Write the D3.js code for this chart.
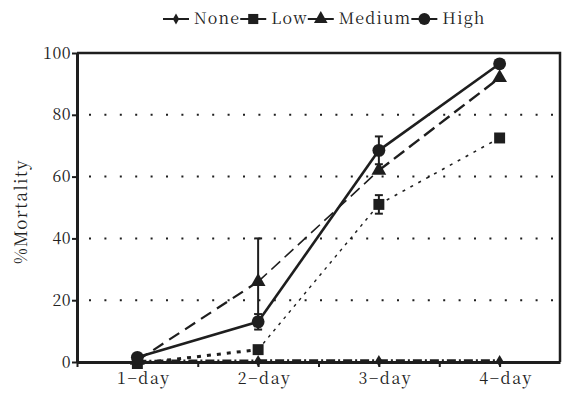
<!DOCTYPE html>
<html>
<head>
<meta charset="utf-8">
<script src="https://cdn.jsdelivr.net/npm/d3@7"></script>
</head>
<body style="margin:0;background:#fff">
<svg id="chart" width="565" height="397"></svg>
<script>
// Days of exposure and mortality (%) per treatment level
const days = ["1-day", "2-day", "3-day", "4-day"];
const seriesNames = ["None", "Low", "Medium", "High"];
const noneValues = [0.3, 0.4, 0.4, 0.4];
const lowValues = [-0.5, 4, 51, 72.5];
const mediumValues = [0.5, 26, 62, 92];
const highValues = [1.5, 13, 68.5, 96.5];
const noneErrors = [0, 0, 0, 0];
const lowErrors = [0, 0, 3, 0];
const mediumErrors = [0, 14, 0, 0];
const highErrors = [0.5, 2.5, 4.5, 0];
const yTicks = [0, 20, 40, 60, 80, 100];

const svg = d3.select("#chart");
const W = 565, H = 397;
const m = { left: 77, right: 5, top: 53, bottom: 35 };
const ink = "#1e1e1e";
const serif = '"Noto Serif CJK SC", "Liberation Serif", serif';

// every label goes through this helper so the typeface is set in one place
function typeset(sel, size, spacing) {
  return sel.style("font-family", serif)
    .style("font-size", size + "px")
    .style("letter-spacing", spacing + "px")
    .style("fill", "#222");
}

const x = d3.scaleLinear().domain([0.5, 4.5]).range([m.left, W - m.right]);
const y = d3.scaleLinear().domain([0, 100]).range([H - m.bottom, m.top]);

// dotted horizontal gridlines
svg.append("g").selectAll("line")
  .data(yTicks.filter(v => v > 0))
  .join("line")
  .attr("x1", x(0.5) + 12).attr("x2", x(4.5))
  .attr("y1", d => y(d)).attr("y2", d => y(d))
  .attr("stroke", ink).attr("stroke-width", 2)
  .attr("stroke-dasharray", "2,13.4");

// frame: top and right edges
svg.append("path")
  .attr("d", `M${x(0.5)},${y(100)}H${x(4.5)}V${y(0)}`)
  .attr("fill", "none").attr("stroke", ink).attr("stroke-width", 2.5);

// y axis
const yAxis = svg.append("g")
  .attr("transform", `translate(${x(0.5)},0)`)
  .call(d3.axisLeft(y).tickValues(yTicks).tickSize(5).tickSizeOuter(0).tickPadding(1));
yAxis.attr("font-family", null).attr("font-size", null);
yAxis.select(".domain").attr("stroke", ink).attr("stroke-width", 3);
yAxis.selectAll(".tick line").attr("stroke", ink).attr("stroke-width", 2);
typeset(yAxis.selectAll(".tick text"), 16, 0.5);

// x axis: labelled days plus unlabelled midpoints
const xTickVals = [0.5, 1, 1.5, 2, 2.5, 3, 3.5, 4];
const xAxis = svg.append("g")
  .attr("transform", `translate(0,${y(0)})`)
  .call(d3.axisBottom(x).tickValues(xTickVals).tickSize(5).tickSizeOuter(0).tickPadding(6)
    .tickFormat(d => Number.isInteger(d) ? days[d - 1].replace("-", "\u2212") : ""));
xAxis.attr("font-family", null).attr("font-size", null);
xAxis.select(".domain").attr("stroke", ink).attr("stroke-width", 3);
xAxis.selectAll(".tick line").attr("stroke", ink).attr("stroke-width", 2);
typeset(xAxis.selectAll(".tick text"), 16, 1.6).attr("dx", 6);

// y axis title
typeset(svg.append("text")
  .attr("transform", `translate(27,${(y(0) + y(100)) / 2 + 4}) rotate(-90)`)
  .attr("text-anchor", "middle"), 17, 1.2)
  .text("%Mortality");

const series = [
  { name: "None", values: noneValues, errors: noneErrors, symbol: d3.symbolDiamond, size: 40,
    segs: [{ w: 2.8, dash: "9,3,2,3" }, { w: 2.8, dash: "9,3,2,3" }, { w: 2.8, dash: "9,3,2,3" }] },
  { name: "Low", values: lowValues, errors: lowErrors, symbol: d3.symbolSquare, size: 120,
    segs: [{ w: 3, dash: "4,6" }, { w: 1.4, dash: "3,5" }, { w: 1.6, dash: "3,6" }] },
  { name: "Medium", values: mediumValues, errors: mediumErrors, symbol: d3.symbolTriangle, size: 95,
    segs: [{ w: 2.2, dash: "12,7" }, { w: 1.6, dash: "12,6" }, { w: 2.4, dash: "13,6" }] },
  { name: "High", values: highValues, errors: highErrors, symbol: d3.symbolCircle, size: 130,
    segs: [{ w: 2.6, dash: null }, { w: 2.6, dash: null }, { w: 2.6, dash: null }] }
];

const plot = svg.append("g");

// connecting lines, one segment at a time
series.forEach(s => {
  const pts = s.values.map((v, i) => [x(i + 1), y(v)]);
  s.segs.forEach((seg, i) => {
    plot.append("path")
      .attr("d", d3.line()([pts[i], pts[i + 1]]))
      .attr("fill", "none").attr("stroke", ink)
      .attr("stroke-width", seg.w)
      .attr("stroke-dasharray", seg.dash);
  });
});

// error bars
series.forEach(s => {
  s.values.forEach((v, i) => {
    const e = s.errors[i];
    if (!e) return;
    const cx = x(i + 1);
    const g = plot.append("g").attr("stroke", ink).attr("stroke-width", 2);
    g.append("line").attr("x1", cx).attr("x2", cx).attr("y1", y(v - e)).attr("y2", y(v + e));
    g.append("line").attr("x1", cx - 4).attr("x2", cx + 4).attr("y1", y(v + e)).attr("y2", y(v + e));
    g.append("line").attr("x1", cx - 4).attr("x2", cx + 4).attr("y1", y(v - e)).attr("y2", y(v - e));
  });
});

// markers
series.forEach(s => {
  plot.append("g").selectAll("path")
    .data(s.values)
    .join("path")
    .attr("transform", (d, i) => `translate(${x(i + 1)},${y(d)})`)
    .attr("d", d3.symbol(s.symbol, s.size))
    .attr("fill", ink);
});

// legend along the top
const legend = svg.append("g").attr("transform", "translate(163,24)");
let lx = 0;
series.forEach(s => {
  const item = legend.append("g").attr("transform", `translate(${lx},0)`);
  item.append("line").attr("x1", 0).attr("x2", 26).attr("y1", -5).attr("y2", -5)
    .attr("stroke", ink).attr("stroke-width", 2);
  item.append("path").attr("transform", "translate(13,-5)")
    .attr("d", d3.symbol(s.symbol, s.size * 0.85)).attr("fill", ink);
  const t = typeset(item.append("text").attr("x", 31).attr("y", 0), 16, 1.2).text(s.name);
  lx += 31 + t.node().getComputedTextLength();
});
</script>
</body>
</html>
